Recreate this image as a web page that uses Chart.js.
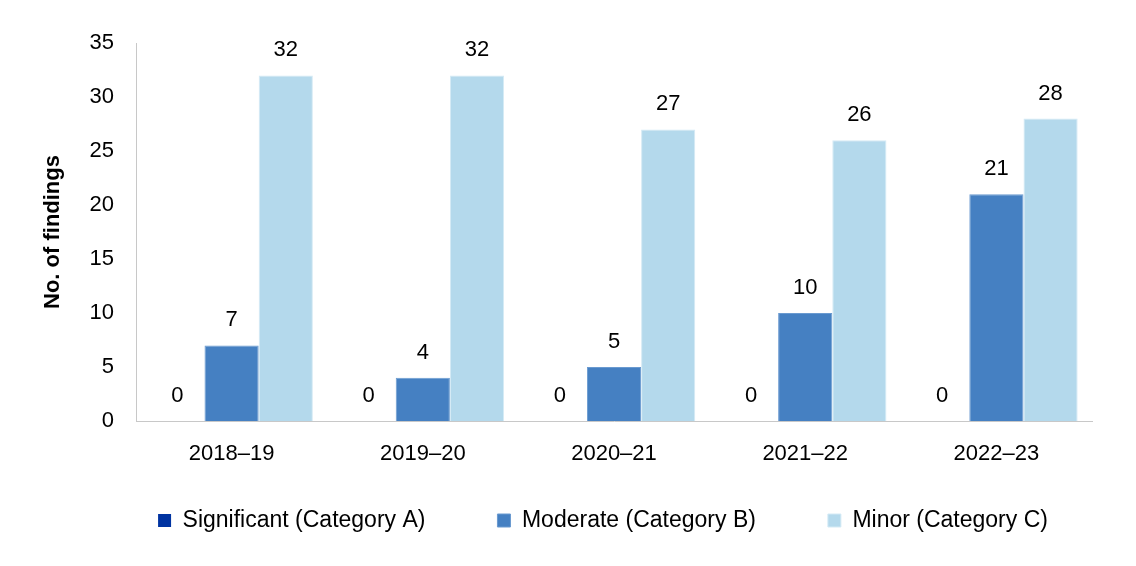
<!DOCTYPE html>
<html>
<head>
<meta charset="utf-8">
<script src="https://cdn.jsdelivr.net/npm/chart.js@4/dist/chart.umd.min.js"></script>
<style>
  html, body { margin: 0; padding: 0; background: #fff; }
  #wrap { width: 1136px; height: 566px; }
</style>
</head>
<body>
<div id="wrap"><canvas id="chart" width="1136" height="566"></canvas></div>
<script>
const years = ["2018–19", "2019–20", "2020–21", "2021–22", "2022–23"];
const significant = [0, 0, 0, 0, 0];
const moderate = [7, 4, 5, 10, 21];
const minor = [32, 32, 27, 26, 28];
const yTicks = [0, 5, 10, 15, 20, 25, 30, 35];

const FONT = "'Liberation Sans', Arial, sans-serif";

// value labels above each bar
const barLabels = {
  id: "barLabels",
  afterDatasetsDraw(chart) {
    const ctx = chart.ctx;
    ctx.save();
    ctx.font = "22px " + FONT;
    ctx.fillStyle = "#000";
    ctx.textAlign = "center";
    ctx.textBaseline = "middle";
    chart.data.datasets.forEach((ds, i) => {
      const meta = chart.getDatasetMeta(i);
      meta.data.forEach((bar, j) => {
        ctx.fillText(String(ds.data[j]), bar.x, bar.y - 25);
      });
    });
    ctx.restore();
  }
};

// nudge the legend box after layout
const legendShift = {
  id: "legendShift",
  afterLayout(chart) {
    const lg = chart.legend;
    if (!lg) return;
    const dx = 37, dy = -36;
    lg.left += dx; lg.right += dx;
    lg.top += dy; lg.bottom += dy;
  }
};

new Chart(document.getElementById("chart"), {
  type: "bar",
  data: {
    labels: years,
    datasets: [
      { label: "Significant (Category A)", data: significant, backgroundColor: "#0033A1" },
      { label: "Moderate (Category B)", data: moderate, backgroundColor: "#4580C2", borderColor: "#6A9AD0", borderWidth: 1 },
      { label: "Minor (Category C)", data: minor, backgroundColor: "#B4D9EC", borderColor: "#D4EAF5", borderWidth: 1 }
    ]
  },
  options: {
    responsive: false,
    animation: false,
    layout: { padding: { top: 43, right: 44, bottom: -12, left: 40 } },
    datasets: { bar: { categoryPercentage: 0.85, barPercentage: 1 } },
    plugins: {
      legend: {
        position: "bottom",
        labels: {
          color: "#000",
          font: { family: FONT, size: 23 },
          boxWidth: 13,
          boxHeight: 13,
          padding: 72
        }
      },
      tooltip: { enabled: false }
    },
    scales: {
      x: {
        grid: { display: false, drawTicks: false },
        border: { color: "#C8C8C8", width: 1 },
        ticks: { color: "#000", font: { family: FONT, size: 22 }, padding: 20 },
        afterFit(scale) { scale.height = 52; }
      },
      y: {
        min: 0,
        max: 35,
        afterBuildTicks(scale) { scale.ticks = yTicks.map(v => ({ value: v })); },
        grid: { display: false, drawTicks: false },
        border: { color: "#C8C8C8", width: 1 },
        ticks: { color: "#000", font: { family: FONT, size: 22 }, padding: 22 },
        title: {
          display: true,
          text: "No. of findings",
          color: "#000",
          font: { family: FONT, size: 22, weight: "bold" },
          padding: { top: 0, bottom: 0 }
        },
        afterFit(scale) { scale.width = 96; }
      }
    }
  },
  plugins: [barLabels, legendShift]
});
</script>
</body>
</html>
